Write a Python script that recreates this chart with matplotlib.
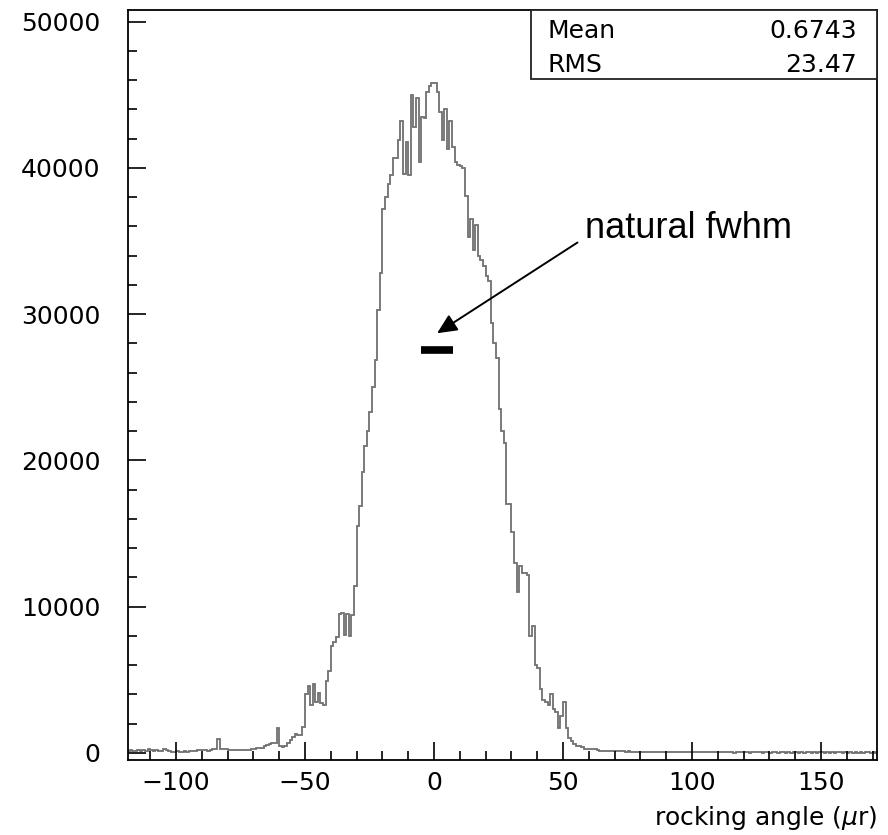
import numpy as np
import matplotlib
matplotlib.use("Agg")
import matplotlib.pyplot as plt
from matplotlib.ticker import MultipleLocator
from matplotlib.patches import Rectangle

# bins are 1 urad wide, first edge at -120
bin_start = -120
bin_width = 1

# counts per bin
counts_left_tail = [  # -120 .. -51
    150, 150, 180, 120, 160, 200, 140, 170,
    150, 260, 180, 150, 210, 160, 140, 250,
    170, 120, 100, 90, 110, 80, 100, 120,
    90, 110, 150, 130, 170, 200, 180, 220,
    160, 200, 250, 240, 950, 280, 260, 250,
    220, 200, 190, 210, 180, 200, 220, 190,
    210, 300, 280, 320, 350, 340, 500, 550,
    600, 650, 700, 1700, 450, 400, 500, 700,
    900, 1100, 1300, 1250, 1200, 1750,
]
counts_rise = [  # -50 .. -1
    4000, 4600, 3300, 4700, 3500, 4100, 3400, 3300, 4900, 5600,
    7300, 7600, 7900, 9500, 9600, 8100, 9500, 8000, 9400, 11400,
    15500, 16900, 19200, 21000, 22000, 23300, 25000, 26900, 30300, 32800,
    37200, 38000, 38900, 39500, 40700, 40700, 41900, 43200, 39600, 41800,
    39500, 45000, 42800, 44800, 40400, 43500, 43400, 45200, 45600, 45800,
]
counts_fall = [  # 0 .. 72
    45800, 45200, 43800, 41900, 44000, 41300, 43200, 41400, 40400, 40200,
    40100, 40000, 38100, 35300, 36500, 34400, 36100, 34000, 33700, 33300,
    32600, 32300, 29400, 28000, 27000, 23500, 22000, 21200, 17000, 17000,
    15100, 13000, 11000, 12800, 12300, 12300, 12200, 8000, 8700, 6000,
    5800, 4400, 3600, 3500, 3300, 4000, 3000, 2800, 1700, 2500,
    3500, 1700, 1000, 800, 600, 500, 450, 400, 300, 250,
    260, 240, 250, 170, 150, 160, 140, 150, 130, 150,
    120, 140, 110,
]
counts_right_tail = [  # 73 .. 171
    120, 100, 110, 90, 100, 80, 90, 100, 70, 90,
    80, 70, 90, 60, 80, 70, 60, 80, 90, 60,
    70, 50, 60, 80, 70, 50, 60, 70, 40, 60,
    50, 60, 70, 40, 50, 60, 50, 40, 60, 50,
    40, 60, 50, 30, 50, 40, 60, 50, 40, 30,
    50, 40, 60, 40, 30, 50, 40, 30, 50, 40,
    30, 40, 50, 30, 40, 30, 50, 40, 30, 40,
    30, 50, 40, 30, 40, 30, 40, 50, 30, 40,
    30, 40, 30, 50, 40, 30, 40, 30, 40, 30,
    40, 30, 40, 30, 50, 40, 30, 40, 30,
]

stat_names = ["Mean", "RMS"]
stat_values = ["0.6743", "23.47"]

fwhm_lo, fwhm_hi, fwhm_y = -5.2, 7.3, 27530
arrow_tail = (55.6, 34900)
arrow_head = (1.2, 28700)

counts = np.array(counts_left_tail + counts_rise + counts_fall + counts_right_tail)
edges = bin_start + bin_width * np.arange(len(counts) + 1)

fig = plt.figure(figsize=(8.88, 8.35), dpi=100)
ax = fig.add_axes([128 / 888, 1 - 760 / 835, 749 / 888, 750 / 835])

ax.stairs(counts, edges, color="#707070", linewidth=1.3, baseline=0)

ax.set_xlim(-118.6, 171.7)
ax.set_ylim(-480, 50800)

ax.xaxis.set_major_locator(MultipleLocator(50))
ax.xaxis.set_minor_locator(MultipleLocator(10))
ax.yaxis.set_major_locator(MultipleLocator(10000))
ax.yaxis.set_minor_locator(MultipleLocator(2000))

ax.tick_params(which="both", direction="in", top=False, right=False, width=1.2, colors="black")
ax.tick_params(which="major", length=13)
ax.tick_params(which="minor", length=6.5)
ax.tick_params(axis="x", labelsize=18, pad=8)
ax.tick_params(axis="y", labelsize=18, pad=20)
for s in ax.spines.values():
    s.set_linewidth(1.3)

# fwhm marker and arrow
ax.plot([fwhm_lo, fwhm_hi], [fwhm_y, fwhm_y], color="black", lw=5.5, solid_capstyle="butt")
ax.annotate("", xy=arrow_head, xytext=arrow_tail,
            arrowprops=dict(arrowstyle="-|>,head_length=0.6,head_width=0.28",
                            mutation_scale=20, color="black", lw=1.4,
                            shrinkA=0, shrinkB=0))
ax.text((585 - 128) / 749, (760 - 228) / 750, "natural fwhm", transform=ax.transAxes,
        fontsize=26, family="Liberation Sans", ha="left", va="center")

# stats box
bx0 = (531 - 128) / 749
by0 = (760 - 79) / 750
ax.add_patch(Rectangle((bx0, by0), 1 - bx0, 1 - by0, transform=ax.transAxes,
                       fill=True, facecolor="white", edgecolor="#222222", lw=1.3,
                       clip_on=False, zorder=5))
for i, (nm, val) in enumerate(zip(stat_names, stat_values)):
    ybase = 1 - [38, 71.5][i] / 835
    fig.text(547 / 888, ybase, nm, fontsize=18, ha="left", va="baseline", zorder=6)
    fig.text(857 / 888, ybase, val, fontsize=18, ha="right", va="baseline", zorder=6)

fig.text(877 / 888, 1 - 825 / 835, r"rocking angle ($\mu$r)", fontsize=18,
         ha="right", va="baseline")

fig.savefig("out.png", dpi=100)
